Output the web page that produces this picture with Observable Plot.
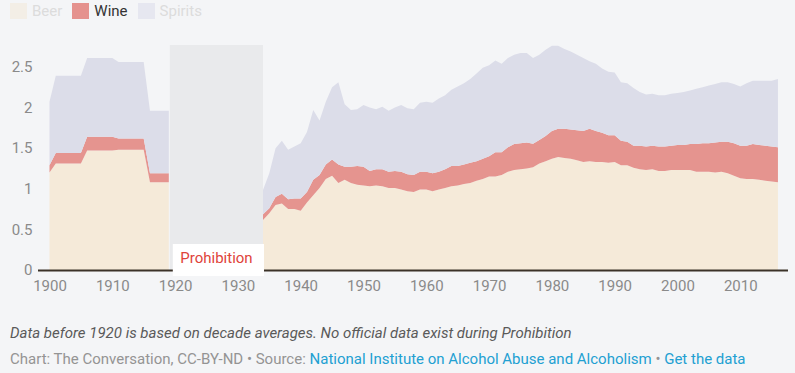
<!DOCTYPE html>
<html>
<head>
<meta charset="utf-8">
<script src="https://cdn.jsdelivr.net/npm/d3@7"></script>
<script src="https://cdn.jsdelivr.net/npm/@observablehq/plot@0.6"></script>
<style>
  html, body { margin: 0; padding: 0; background: #f4f5f7; font-family: Roboto, "Noto Sans", sans-serif; }
  #wrap { position: relative; width: 795px; height: 373px; overflow: hidden; }
  #legend { height: 25px; display: flex; align-items: flex-start; padding-left: 10px; box-sizing: border-box; }
  .item { display: flex; align-items: center; margin-right: 10px; margin-top: 3px; height: 16px; font-size: 15px; }
  .sw { width: 17px; height: 16px; margin-right: 5px; }
  #chart svg { display: block; }
  #footer { position: absolute; left: 10px; top: 320px; font-size: 15px; line-height: 26px; color: #949494; white-space: nowrap; }
  #footer .note { font-style: italic; color: #5a5a5a; }
  #footer a { color: #22a0d2; text-decoration: none; }
</style>
</head>
<body>
<div id="wrap">
  <div id="legend"></div>
  <div id="chart"></div>
  <div id="footer">
    <div class="note">Data before 1920 is based on decade averages. No official data exist during Prohibition</div>
    <div>Chart: The Conversation, CC-BY-ND • Source: <a>National Institute on Alcohol Abuse and Alcoholism</a> • <a>Get the data</a></div>
  </div>
</div>
<script>
// ---- Data (gallons of ethanol per capita) ----
const types = ["Beer", "Wine", "Spirits"];
const colors = ["#f5ead9", "#e5948f", "#dcdde9"];

const preYears = [1900,1901,1902,1903,1904,1905,1906,1907,1908,1909,1910,1911,1912,1913,1914,1915,1916,1917,1918,1919];
const preBeer    = [1.20,1.31,1.31,1.31,1.31,1.31,1.47,1.47,1.47,1.47,1.47,1.48,1.48,1.48,1.48,1.48,1.08,1.08,1.08,1.08];
const preWine    = [0.09,0.13,0.13,0.13,0.13,0.13,0.17,0.17,0.17,0.17,0.17,0.14,0.14,0.14,0.14,0.14,0.11,0.11,0.11,0.11];
const preSpirits = [0.78,0.95,0.95,0.95,0.95,0.95,0.97,0.97,0.97,0.97,0.97,0.94,0.94,0.94,0.94,0.94,0.77,0.77,0.77,0.77];

const postYears = [1934,1935,1936,1937,1938,1939,1940,1941,1942,1943,1944,1945,1946,1947,1948,1949,
  1950,1951,1952,1953,1954,1955,1956,1957,1958,1959,1960,1961,1962,1963,1964,1965,1966,1967,1968,1969,
  1970,1971,1972,1973,1974,1975,1976,1977,1978,1979,1980,1981,1982,1983,1984,1985,1986,1987,1988,1989,
  1990,1991,1992,1993,1994,1995,1996,1997,1998,1999,2000,2001,2002,2003,2004,2005,2006,2007,2008,2009,
  2010,2011,2012,2013,2014,2015,2016];
const postBeer = [0.615,0.70,0.80,0.82,0.75,0.75,0.73,0.83,0.92,1.01,1.12,1.16,1.07,1.11,1.07,1.05,
  1.04,1.03,1.04,1.03,1.01,1.01,0.99,0.97,0.96,0.99,0.99,0.97,0.99,1.01,1.03,1.04,1.06,1.07,1.10,1.12,
  1.15,1.15,1.17,1.21,1.23,1.24,1.25,1.265,1.31,1.34,1.37,1.39,1.38,1.37,1.35,1.33,1.34,1.33,1.33,1.32,
  1.33,1.29,1.29,1.26,1.24,1.23,1.24,1.22,1.22,1.23,1.23,1.23,1.23,1.21,1.21,1.21,1.20,1.21,1.19,1.16,
  1.13,1.12,1.12,1.11,1.10,1.09,1.08];
const postWine = [0.07,0.06,0.10,0.12,0.12,0.13,0.15,0.13,0.19,0.16,0.18,0.20,0.23,0.16,0.20,0.23,
  0.23,0.19,0.20,0.21,0.20,0.21,0.22,0.21,0.21,0.22,0.22,0.22,0.22,0.23,0.25,0.24,0.24,0.25,0.24,0.25,
  0.25,0.30,0.28,0.30,0.32,0.32,0.32,0.29,0.29,0.31,0.34,0.35,0.36,0.36,0.37,0.38,0.40,0.38,0.36,0.34,
  0.33,0.30,0.29,0.27,0.29,0.29,0.29,0.30,0.30,0.30,0.31,0.31,0.32,0.34,0.35,0.35,0.37,0.37,0.39,0.40,
  0.40,0.41,0.43,0.43,0.43,0.43,0.43];
const postSpirits = [0.30,0.43,0.60,0.65,0.61,0.64,0.68,0.74,0.86,0.67,0.77,0.89,1.01,0.77,0.70,0.70,
  0.76,0.78,0.74,0.77,0.75,0.78,0.82,0.81,0.81,0.85,0.86,0.87,0.90,0.91,0.94,0.98,1.00,1.03,1.08,1.12,
  1.12,1.13,1.09,1.10,1.10,1.11,1.10,1.055,1.05,1.06,1.05,1.02,0.98,0.96,0.93,0.90,0.83,0.83,0.79,0.78,
  0.77,0.72,0.72,0.71,0.66,0.64,0.64,0.63,0.63,0.64,0.64,0.65,0.66,0.68,0.69,0.71,0.72,0.73,0.73,0.73,
  0.73,0.77,0.78,0.79,0.80,0.81,0.84];

const xTicks = [1900,1910,1920,1930,1940,1950,1960,1970,1980,1990,2000,2010];
const yTicks = [0,0.5,1,1.5,2,2.5];
const prohibition = [{start: 1919, end: 1934, label: "Prohibition"}];

// ---- Build long tables ----
function longRows(years, beer, wine, spirits) {
  const rows = [];
  years.forEach((yr, i) => {
    rows.push({year: yr, type: "Beer", value: beer[i]});
    rows.push({year: yr, type: "Wine", value: wine[i]});
    rows.push({year: yr, type: "Spirits", value: spirits[i]});
  });
  return rows;
}
const preRows = longRows(preYears, preBeer, preWine, preSpirits);
const postRows = longRows(postYears, postBeer, postWine, postSpirits);

// ---- Legend ----
const legendColors = {Beer: "#f3eee6", Wine: "#e5928e", Spirits: "#e6e7f0"};
const legendText = {Beer: "#dcdcdc", Wine: "#333", Spirits: "#dcdcdc"};
const legend = document.getElementById("legend");
types.forEach(t => {
  const it = document.createElement("div");
  it.className = "item";
  it.innerHTML = `<div class="sw" style="background:${legendColors[t]}"></div><span style="color:${legendText[t]}">${t}</span>`;
  legend.appendChild(it);
});

// ---- Chart ----
const yMax = 2.77;
const chart = Plot.plot({
  width: 795,
  height: 280,
  marginTop: 20,
  marginBottom: 35,
  marginLeft: 38,
  marginRight: 7,
  style: {background: "transparent", fontFamily: "Roboto, sans-serif", fontSize: "15px", color: "#8a8a8a"},
  x: {domain: [1898.17, 2017.6], ticks: xTicks, tickFormat: d => String(d), tickSize: 0, tickPadding: 10, label: null},
  y: {domain: [0, yMax], ticks: yTicks, tickFormat: d => String(d), tickSize: 0, tickPadding: 6, label: null},
  color: {domain: types, range: colors},
  marks: [
    Plot.rect(prohibition, {x1: "start", x2: "end", y1: 0, y2: yMax, fill: "#e9eaec", insetLeft: 1}),
    Plot.areaY(preRows, {x: "year", y: "value", fill: "type", order: types}),
    Plot.areaY(postRows, {x: "year", y: "value", fill: "type", order: types}),
    Plot.ruleY([0], {stroke: "#3b3228", strokeWidth: 2}),
    Plot.rect(prohibition, {x1: "start", x2: "end", y1: 0, y2: 0, fill: "white",
      insetLeft: 4, insetRight: -1, insetTop: -26, insetBottom: -6}),
    Plot.text(prohibition, {x: "start", y: 0, text: "label", textAnchor: "start", dx: 11, dy: -12,
      fill: "#e0433a", fontSize: 15})
  ]
});
document.getElementById("chart").appendChild(chart);
</script>
</body>
</html>
